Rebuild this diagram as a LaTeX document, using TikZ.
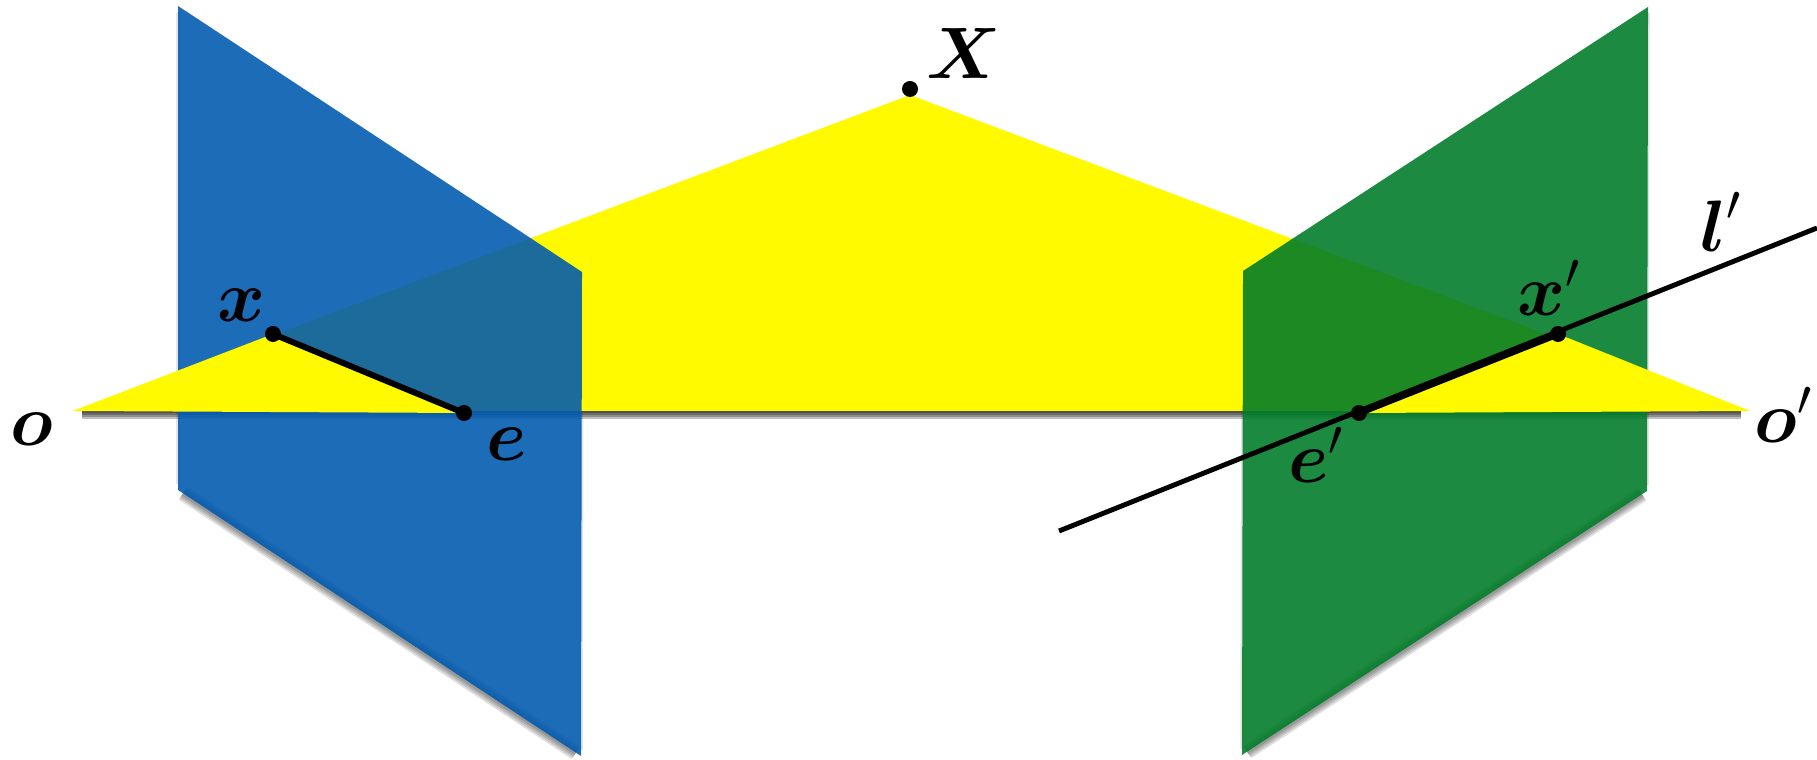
\documentclass[tikz,border=0pt]{standalone}
\usepackage{amsmath,amssymb}
\usepackage{tikz}
\usetikzlibrary{positioning}

\begin{document}
\begin{tikzpicture}[>=stealth,
  every node/.style={font=\fontsize{20}{24}\selectfont},
  ptdot/.style={circle, fill=black, inner sep=0pt, minimum size=0.16cm},
  ptlabel/.style={inner sep=0pt, text=black},
  planeblue/.style={fill=planeB, fill opacity=0.89},
  planegreen/.style={fill=planeG, fill opacity=0.89},
  softedge/.style={black, shorten <=0.06cm, shorten >=0.06cm},
  rayline/.style={line width=1.4pt, black}]
  \definecolor{planeB}{RGB}{0,90,175}
  \definecolor{planeG}{RGB}{0,124,40}
  \definecolor{tri}{RGB}{255,250,0}
  \useasboundingbox (0,0) rectangle (18.17,7.60);

  % Corners
  \coordinate (o) at (0.73,3.49);
  \coordinate (op) at (17.50,3.49);
  \coordinate (apex) at (9.10,6.65);
  \coordinate (b1) at (1.78,7.54);
  \coordinate (b2) at (5.82,4.88);
  \coordinate (b3) at (5.81,0.04);
  \coordinate (b4) at (1.78,2.70);
  \coordinate (g1) at (16.48,7.53);
  \coordinate (g2) at (12.43,4.89);
  \coordinate (g3) at (12.42,0.05);
  \coordinate (g4) at (16.47,2.69);
  \coordinate (lstart) at (10.59,2.29);
  \coordinate (lend) at (18.17,5.32);

  % Soft edges under the shapes
  \foreach \w/\d in {2.2pt/0.039, 1.6pt/0.028, 1.1pt/0.019, 0.6pt/0.011} {
    \draw[line width=\w, softedge, opacity=0.25] ([shift={(0.03,-\d)}]o) -- ([shift={(-0.03,-\d)}]op);
  }
  \foreach \w in {4.4pt, 3.4pt, 2.4pt, 1.4pt} {
    \draw[line width=\w, softedge, opacity=0.12] (b3) -- (b4);
    \draw[line width=\w, softedge, opacity=0.12] (g3) -- (g4);
  }
  \foreach \a/\b in {b1/b4, b2/b3, g1/g4, g2/g3}
    \draw[line width=1.0pt, softedge, opacity=0.1] (\a) -- (\b);

  % Triangle and planes
  \fill[tri] (o) -- (apex) -- (op) -- cycle;
  \fill[planeblue] (b1) -- (b2) -- (b3) -- (b4) -- cycle;
  \fill[planegreen] (g1) -- (g2) -- (g3) -- (g4) -- cycle;

  % Points
  \node[ptdot] (X) at (9.10,6.71) {};
  \coordinate (x) at (2.73,4.26);
  \coordinate (e) at (4.64,3.47);
  \coordinate (xp) at (15.58,4.26);
  \coordinate (ep) at (13.59,3.47);

  \fill[tri] (o) -- (x) -- (e) -- cycle;
  \fill[tri] (ep) -- (xp) -- (op) -- cycle;

  % Lines
  \draw[rayline, line width=1.7pt] (x) -- (e);
  \draw[rayline] (lstart) -- (lend);
  \draw[rayline, line width=1.9pt] (ep) -- (xp);
  \foreach \p/\nm in {x/dotx, e/dote, xp/dotxp, ep/dotep}
    \node[ptdot] (\nm) at (\p) {};

  % Labels
  \node[ptlabel] (lblX) at (9.64,7.06) {$\boldsymbol{X}$};
  \node[ptlabel] (lblx) at (2.42,4.55) {$\boldsymbol{x}$};
  \node[ptlabel] (lblo) at (0.32,3.31) {$\boldsymbol{o}$};
  \node[ptlabel] (lble) at (5.07,3.16) {$\boldsymbol{e}$};
  \node[ptlabel] (lblxp) at (15.49,4.72) {$\boldsymbol{x}'$};
  \node[ptlabel] (lblep) at (13.16,3.05) {$\boldsymbol{e}'$};
  \node[ptlabel] (lblop) at (17.84,3.45) {$\boldsymbol{o}'$};
  \node[ptlabel] (lbll) at (17.21,5.38) {$\boldsymbol{l}'$};
\end{tikzpicture}
\end{document}
